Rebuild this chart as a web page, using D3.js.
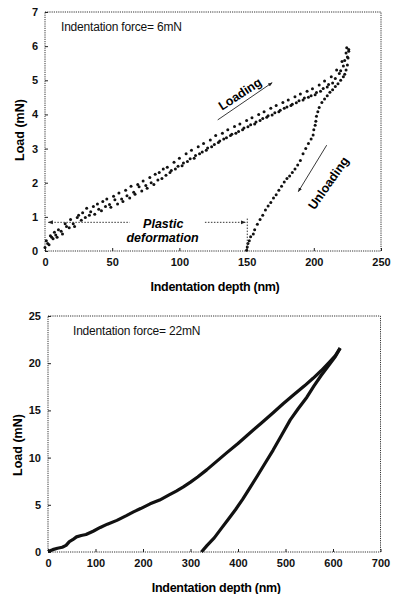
<!DOCTYPE html>
<html>
<head>
<meta charset="utf-8">
<script src="https://cdn.jsdelivr.net/npm/d3@7"></script>
<style>
  body { margin: 0; background: #fff; }
  svg { display: block; font-family: "Liberation Sans", Arial, sans-serif; }
  .tick text { font-weight: bold; font-size: 11px; fill: #111; }
  .tick line { stroke: #222; }
</style>
</head>
<body>
<div id="chart"></div>
<script>
// top panel: 6 mN indentation, scattered points [depth nm, load mN]
const loading6 = [
  [0, 0.10], [1, 0.30], [2, 0.22], [3, 0.18], [4, 0.45], [5, 0.40], [6, 0.36], [7, 0.55], [8, 0.47], [9, 0.40],
  [10, 0.62], [12, 0.58], [13, 0.50], [15, 0.80], [16, 0.72], [18, 0.68], [19, 0.92], [21, 0.80], [22, 0.72], [24, 0.98],
  [25, 1.05], [27, 0.90], [28, 1.12], [30, 0.98], [31, 1.25], [33, 1.05], [34, 1.15], [36, 1.30], [37, 1.08], [39, 1.38],
  [40, 1.22], [42, 1.18], [43, 1.45], [45, 1.30], [46, 1.52], [48, 1.36], [49, 1.28], [51, 1.60], [52, 1.50], [54, 1.38],
  [55, 1.70], [57, 1.52], [58, 1.45], [60, 1.78], [61, 1.62], [63, 1.55], [64, 1.90], [66, 1.72], [67, 1.66], [69, 1.95],
  [70, 1.88], [72, 1.76], [73, 2.05], [75, 1.92], [76, 1.84], [78, 2.15], [79, 2.00], [81, 1.95], [82, 2.25], [84, 2.08],
  [85, 2.30], [87, 2.12], [88, 2.40], [90, 2.22], [91, 2.45], [93, 2.30], [94, 2.36], [96, 2.60], [97, 2.40], [99, 2.48],
  [100, 2.72], [102, 2.50], [103, 2.58], [105, 2.85], [106, 2.62], [108, 2.70], [109, 2.95], [111, 2.72], [112, 2.80], [114, 3.05],
  [115, 2.85], [117, 2.90], [118, 3.15], [120, 2.95], [121, 3.02], [123, 3.25], [124, 3.05], [126, 3.12], [127, 3.38], [129, 3.18],
  [130, 3.22], [132, 3.45], [133, 3.28], [135, 3.32], [136, 3.55], [138, 3.38], [139, 3.42], [141, 3.65], [142, 3.45], [144, 3.50],
  [145, 3.72], [147, 3.55], [148, 3.60], [150, 3.82], [151, 3.64], [153, 3.70], [154, 3.90], [156, 3.72], [157, 3.78], [159, 4.00],
  [160, 3.82], [162, 3.88], [163, 4.08], [165, 3.92], [166, 3.96], [168, 4.18], [169, 3.98], [171, 4.05], [172, 4.26], [174, 4.08],
  [175, 4.12], [177, 4.35], [178, 4.18], [180, 4.22], [181, 4.42], [183, 4.26], [184, 4.30], [186, 4.52], [187, 4.34], [189, 4.40],
  [190, 4.60], [192, 4.42], [193, 4.48], [195, 4.68], [196, 4.50], [198, 4.55], [199, 4.75], [201, 4.58], [202, 4.64], [204, 4.86],
  [205, 4.68], [207, 4.76], [208, 4.98], [210, 4.80], [211, 4.88], [213, 5.10], [214, 4.92], [216, 5.05], [217, 5.30], [219, 5.20],
  [220, 5.28], [221, 5.55], [222, 5.42], [223, 5.58], [224, 5.80], [225, 5.68], [226, 5.90], [224.5, 5.95]
];
const unloading6 = [
  [226, 5.85], [225.5, 5.65], [225, 5.45], [224, 5.3], [223, 5.18], [222, 5.1], [220, 5.0], [218, 4.9], [216, 4.82], [214, 4.72],
  [212, 4.65], [210, 4.55], [208, 4.45], [206, 4.35], [204, 4.2], [203, 4.08], [202, 3.95], [201.5, 3.8], [201, 3.68], [200, 3.55],
  [199.5, 3.4], [198, 3.28], [196, 3.15], [194, 3.0], [192, 2.85], [190, 2.65], [188, 2.52], [186, 2.4], [184, 2.3], [182, 2.2],
  [180, 2.12], [178, 2.02], [176, 1.9], [174, 1.78], [172, 1.65], [170, 1.55], [168, 1.42], [166, 1.32], [164, 1.2], [162, 1.05],
  [160, 0.92], [158, 0.78], [156, 0.62], [155, 0.5], [153, 0.42], [152, 0.3], [151, 0.22], [150.5, 0.12], [150, 0.02]
];

// bottom panel: 22 mN indentation, dense trace
const loading22 = [
  [0, 0.05], [10, 0.25], [20, 0.4], [30, 0.5], [38, 0.7], [45, 1.1], [52, 1.3], [60, 1.6], [70, 1.75], [80, 1.85],
  [95, 2.2], [110, 2.6], [125, 2.95], [145, 3.35], [165, 3.85], [180, 4.25], [195, 4.6], [215, 5.1], [235, 5.5], [255, 6.05],
  [270, 6.45], [285, 6.9], [300, 7.4], [315, 7.95], [334, 8.7], [355, 9.6], [376, 10.5], [400, 11.5], [425, 12.6], [450, 13.7],
  [474, 14.75], [495, 15.7], [516, 16.6], [540, 17.6], [558, 18.4], [575, 19.2], [594, 20.2], [605, 20.8], [615, 21.6]
];
const unloading22 = [
  [615, 21.6], [605, 20.7], [590, 19.7], [575, 18.7], [560, 17.6], [545, 16.4], [527, 15.2], [510, 14.0], [492, 12.4], [474, 10.8],
  [457, 9.4], [440, 8.0], [425, 6.8], [410, 5.6], [395, 4.5], [380, 3.5], [365, 2.5], [350, 1.5], [335, 0.7], [323, 0]
];

const xTicks6 = [0, 50, 100, 150, 200, 250];
const yTicks6 = [0, 1, 2, 3, 4, 5, 6, 7];
const xTicks22 = [0, 100, 200, 300, 400, 500, 600, 700];
const yTicks22 = [0, 5, 10, 15, 20, 25];

const width = 395, height = 594;

const svg = d3.select("#chart")
  .append("svg")
  .attr("width", width)
  .attr("height", height);

svg.append("defs").append("marker")
  .attr("id", "arrow")
  .attr("viewBox", "0 0 10 10")
  .attr("refX", 9).attr("refY", 5)
  .attr("markerWidth", 5).attr("markerHeight", 5)
  .attr("orient", "auto-start-reverse")
  .append("path")
  .attr("d", "M0,1 L10,5 L0,9 Z")
  .attr("fill", "#222");

function panel(opts) {
  const x = d3.scaleLinear().domain(opts.xDomain).range([opts.left, opts.right]);
  const y = d3.scaleLinear().domain(opts.yDomain).range([opts.bottom, opts.top]);

  // dotted frame
  svg.append("rect")
    .attr("x", opts.left).attr("y", opts.top)
    .attr("width", opts.right - opts.left)
    .attr("height", opts.bottom - opts.top)
    .attr("fill", "none")
    .attr("stroke", "#333")
    .attr("stroke-width", 1)
    .attr("stroke-dasharray", "1.2,1");

  const xAxis = svg.append("g")
    .attr("transform", `translate(0,${opts.bottom})`)
    .call(d3.axisBottom(x).tickValues(opts.xTicks).tickFormat(d3.format("d")).tickSize(-3).tickPadding(7));
  xAxis.select(".domain").remove();

  const yAxis = svg.append("g")
    .attr("transform", `translate(${opts.left},0)`)
    .call(d3.axisLeft(y).tickValues(opts.yTicks).tickFormat(d3.format("d")).tickSize(-3).tickPadding(7));
  yAxis.select(".domain").remove();

  svg.append("text")
    .attr("x", (opts.left + opts.right) / 2 + 2)
    .attr("y", opts.bottom + 40)
    .attr("text-anchor", "middle")
    .style("font-weight", "bold")
    .style("font-size", "12.5px")
    .style("letter-spacing", "-0.3px")
    .text("Indentation depth (nm)");

  svg.append("text")
    .attr("transform", `translate(${opts.titleX},${opts.titleY}) rotate(-90)`)
    .attr("text-anchor", "middle")
    .attr("dy", "0.35em")
    .style("font-weight", "bold")
    .style("font-size", "12.5px")
    .text("Load (mN)");

  svg.append("text")
    .attr("x", opts.left + opts.labelDx)
    .attr("y", opts.top + 19)
    .style("font-size", "12px")
    .style("letter-spacing", "-0.2px")
    .attr("fill", "#111")
    .text(opts.label);

  return { x, y };
}

// ---- top panel ----
const top6 = panel({
  xDomain: [0, 250], yDomain: [0, 7],
  left: 45, right: 381, top: 12, bottom: 251,
  xTicks: xTicks6, yTicks: yTicks6,
  titleX: 20, titleY: 130, labelDx: 16,
  label: "Indentation force= 6mN"
});

svg.append("g").selectAll("circle")
  .data(loading6.concat(unloading6))
  .join("circle")
    .attr("cx", d => top6.x(d[0]))
    .attr("cy", d => top6.y(d[1]))
    .attr("r", 1.5)
    .attr("fill", "#111");

// plastic deformation span
const plasticY = top6.y(0.84);
svg.append("line")
  .attr("x1", top6.x(2.5)).attr("x2", top6.x(63))
  .attr("y1", plasticY).attr("y2", plasticY)
  .attr("stroke", "#333").attr("stroke-dasharray", "1.5,1.5")
  .attr("marker-start", "url(#arrow)");
svg.append("line")
  .attr("x1", top6.x(119)).attr("x2", top6.x(149))
  .attr("y1", plasticY).attr("y2", plasticY)
  .attr("stroke", "#333").attr("stroke-dasharray", "1.5,1.5")
  .attr("marker-end", "url(#arrow)");
svg.append("line")
  .attr("x1", top6.x(150.5)).attr("x2", top6.x(150.5))
  .attr("y1", top6.y(0.95)).attr("y2", top6.y(0))
  .attr("stroke", "#333").attr("stroke-dasharray", "1.5,1.5");

svg.append("text")
  .attr("x", top6.x(88)).attr("y", top6.y(0.66))
  .attr("text-anchor", "middle")
  .style("font-weight", "bold").style("font-style", "italic").style("font-size", "12.5px")
  .text("Plastic");
svg.append("text")
  .attr("x", top6.x(87.5)).attr("y", top6.y(0.25))
  .attr("text-anchor", "middle")
  .style("font-weight", "bold").style("font-style", "italic").style("font-size", "12.5px")
  .text("deformation");

// loading arrow + label
svg.append("line")
  .attr("x1", top6.x(128.5)).attr("y1", top6.y(3.84))
  .attr("x2", top6.x(169)).attr("y2", top6.y(4.93))
  .attr("stroke", "#222").attr("stroke-width", 0.9)
  .attr("marker-end", "url(#arrow)");
svg.append("text")
  .attr("transform", `translate(${top6.x(145)},${top6.y(4.6)}) rotate(-33)`)
  .attr("text-anchor", "middle").attr("dy", "0.35em")
  .style("font-weight", "bold").style("font-size", "12.5px")
  .text("Loading");

// unloading arrow + label
svg.append("line")
  .attr("x1", top6.x(209.6)).attr("y1", top6.y(3.1))
  .attr("x2", top6.x(188.5)).attr("y2", top6.y(1.74))
  .attr("stroke", "#222").attr("stroke-width", 0.9)
  .attr("marker-end", "url(#arrow)");
svg.append("text")
  .attr("transform", `translate(${top6.x(210.8)},${top6.y(1.99)}) rotate(-55)`)
  .attr("text-anchor", "middle").attr("dy", "0.35em")
  .style("font-weight", "bold").style("font-size", "12.5px")
  .text("Unloading");

// ---- bottom panel ----
const bot22 = panel({
  xDomain: [0, 700], yDomain: [0, 25],
  left: 48, right: 380.5, top: 316, bottom: 552,
  xTicks: xTicks22, yTicks: yTicks22,
  titleX: 18, titleY: 445, labelDx: 25,
  label: "Indentation force= 22mN"
});

const line22 = d3.line()
  .x(d => bot22.x(d[0]))
  .y(d => bot22.y(d[1]));

svg.selectAll("path.trace")
  .data([loading22, unloading22])
  .join("path")
    .attr("class", "trace")
    .attr("d", line22)
    .attr("fill", "none")
    .attr("stroke", "#111")
    .attr("stroke-width", 3.2)
    .attr("stroke-linejoin", "round");
</script>
</body>
</html>
